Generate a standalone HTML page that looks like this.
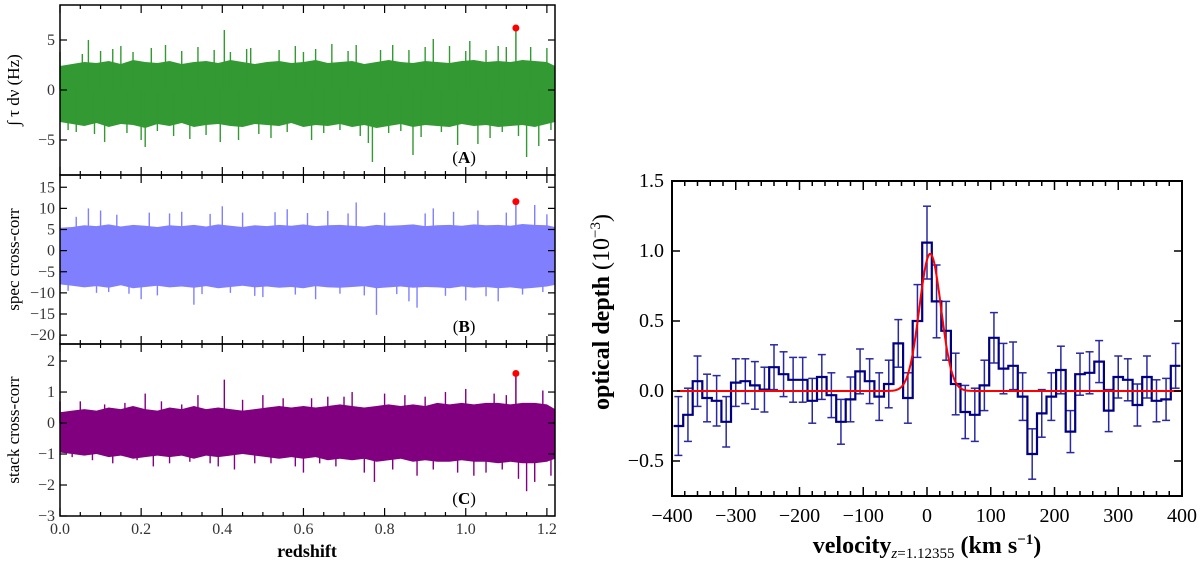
<!DOCTYPE html>
<html><head><meta charset="utf-8"><style>
html,body{margin:0;padding:0;background:#fff;}
svg{display:block;font-family:"Liberation Serif",serif;}
</style></head><body>
<svg id="fig" width="1200" height="563" viewBox="0 0 1200 563" xmlns="http://www.w3.org/2000/svg">
<g id="left"></g>
<g id="right"></g>
</svg>
<script>
// ---------- Left panels data ----------
const zTicks = [0.0, 0.2, 0.4, 0.6, 0.8, 1.0, 1.2];
const zTickLabels = ["0.0","0.2","0.4","0.6","0.8","1.0","1.2"];
const envZ = [0,0.03,0.06,0.09,0.12,0.15,0.18,0.21,0.24,0.27,0.3,0.33,0.36,0.39,0.42,0.45,0.48,0.51,0.54,0.57,0.6,0.63,0.66,0.69,0.72,0.75,0.78,0.81,0.84,0.87,0.9,0.93,0.96,0.99,1.02,1.05,1.08,1.11,1.14,1.17,1.2,1.22];
// panel A
const aUpper = [2.4,2.6,2.8,2.7,2.9,2.6,3.0,2.8,2.7,2.9,2.6,2.8,2.9,2.7,3.0,2.8,2.6,2.8,2.9,2.7,2.8,3.0,2.7,2.8,2.9,2.6,2.8,3.0,2.8,2.7,2.9,2.8,2.7,2.9,3.0,2.8,2.9,2.8,3.0,2.9,2.8,2.4];
const aLower = [-3.2,-3.4,-3.6,-3.3,-3.7,-3.4,-3.5,-3.8,-3.4,-3.6,-3.3,-3.7,-3.5,-3.4,-3.6,-3.7,-3.4,-3.5,-3.6,-3.3,-3.7,-3.5,-3.6,-3.4,-3.7,-3.5,-3.8,-3.6,-3.4,-3.7,-3.5,-3.6,-3.7,-3.4,-3.6,-3.5,-3.7,-3.6,-3.5,-3.7,-3.4,-3.2];
const aSpikeZ = [0.0,0.02,0.04,0.055,0.07,0.085,0.1,0.11,0.13,0.15,0.165,0.18,0.2,0.21,0.225,0.24,0.26,0.28,0.3,0.32,0.34,0.36,0.38,0.395,0.405,0.42,0.44,0.46,0.47,0.49,0.52,0.54,0.56,0.58,0.6,0.62,0.63,0.65,0.67,0.69,0.71,0.73,0.74,0.76,0.77,0.79,0.81,0.82,0.84,0.86,0.87,0.89,0.9,0.92,0.94,0.96,0.98,1.0,1.01,1.03,1.05,1.06,1.08,1.09,1.1,1.13,1.15,1.16,1.18,1.2,1.21];
const aSpikeV = [3.8,-4.0,-4.2,3.6,5.0,-4.4,3.9,-5.2,4.1,4.4,-4.3,3.8,-5.0,-5.7,4.2,-4.1,4.5,-4.6,3.9,-4.9,4.3,-4.5,4.0,-5.2,6.0,3.8,-5.0,4.1,4.2,-4.4,-4.8,4.0,-4.2,4.4,3.8,-5.0,4.1,-4.3,4.6,-4.0,3.9,4.5,-4.6,-5.3,-7.2,4.0,-4.3,4.5,-4.1,4.0,-6.5,-4.7,4.3,5.1,-4.2,4.4,-5.5,3.9,4.9,-5.4,4.0,-4.8,4.4,-4.2,4.3,-4.6,-6.7,4.3,-5.6,4.2,-4.0];
// panel B
const bUpper = [5.4,5.6,6.0,5.8,6.2,5.7,6.1,5.9,5.6,6.0,5.8,6.1,5.7,6.2,5.9,5.6,6.0,5.8,6.1,5.9,6.2,5.8,6.0,6.1,5.9,5.7,6.1,5.9,6.0,6.2,5.8,6.0,6.1,5.9,6.2,6.0,6.1,5.9,6.3,6.1,6.0,5.6];
const bLower = [-8.0,-8.3,-8.7,-8.4,-8.8,-8.2,-8.9,-8.6,-8.3,-8.7,-8.5,-8.8,-8.4,-8.9,-8.6,-8.3,-8.7,-8.5,-8.8,-8.6,-8.9,-8.4,-8.7,-8.8,-8.6,-8.4,-8.9,-8.7,-8.5,-8.8,-8.6,-8.7,-8.9,-8.5,-8.8,-8.6,-8.9,-8.7,-9.0,-8.8,-8.5,-8.1];
const bSpikeZ = [0.02,0.04,0.07,0.09,0.1,0.12,0.14,0.17,0.2,0.22,0.24,0.27,0.3,0.33,0.35,0.37,0.4,0.42,0.45,0.48,0.5,0.53,0.56,0.58,0.61,0.63,0.66,0.69,0.71,0.73,0.75,0.78,0.8,0.83,0.86,0.88,0.9,0.92,0.95,0.97,1.0,1.03,1.05,1.08,1.1,1.14,1.17,1.19,1.2];
const bSpikeV = [-9.5,8.0,10.0,-10.0,9.5,-9.8,8.5,-10.2,-11.5,9.0,-10.6,8.8,9.2,-12.8,-10.3,8.7,10.5,-10.0,9.0,-10.7,-11.0,9.1,9.8,-10.4,8.9,-11.5,9.4,-10.2,8.8,11.4,-10.6,-15.2,9.0,-10.3,-12.0,-13.5,8.8,10.0,-10.7,9.2,-11.8,9.5,-10.8,-12.0,9.0,-10.4,10.8,-9.8,8.6];
// panel C
const cUpper = [0.35,0.4,0.45,0.4,0.5,0.45,0.55,0.45,0.4,0.5,0.45,0.55,0.45,0.5,0.45,0.4,0.45,0.5,0.55,0.5,0.55,0.5,0.55,0.6,0.55,0.5,0.55,0.6,0.55,0.6,0.55,0.65,0.6,0.65,0.6,0.65,0.65,0.6,0.65,0.65,0.6,0.45];
const cLower = [-0.95,-1.0,-1.05,-1.0,-1.1,-1.05,-1.15,-1.1,-1.05,-1.1,-1.05,-1.15,-1.05,-1.1,-1.05,-1.0,-1.05,-1.1,-1.15,-1.1,-1.15,-1.1,-1.2,-1.15,-1.2,-1.15,-1.25,-1.2,-1.15,-1.25,-1.2,-1.25,-1.25,-1.2,-1.25,-1.25,-1.3,-1.25,-1.3,-1.3,-1.25,-1.15];
const cSpikeZ = [0.0,0.03,0.05,0.08,0.11,0.13,0.16,0.19,0.21,0.23,0.25,0.27,0.3,0.32,0.34,0.37,0.39,0.405,0.43,0.45,0.48,0.5,0.52,0.55,0.58,0.6,0.62,0.64,0.66,0.68,0.7,0.72,0.75,0.775,0.8,0.82,0.85,0.88,0.9,0.92,0.95,0.98,1.0,1.02,1.05,1.07,1.09,1.1,1.13,1.15,1.17,1.19,1.21];
const cSpikeV = [0.7,-1.1,0.7,-1.2,0.6,-1.3,0.65,-1.2,0.95,-1.4,0.7,-1.3,0.6,-1.25,0.9,-1.3,-1.4,1.4,-1.5,0.75,-1.3,0.9,-1.3,0.8,-1.4,-1.6,0.8,-1.3,0.85,-1.4,0.85,1.0,-1.6,-1.9,0.95,-1.5,0.9,-1.7,0.85,-1.5,1.0,-1.6,1.1,-1.7,-1.6,0.95,-1.5,0.9,-1.8,-2.2,-1.9,1.05,-1.7];
const peakZ = 1.1236;
const peakVals = [6.2, 11.6, 1.6];

// ---------- Right panel data ----------
const velCenters = [];
for (let k = 0; k < 53; k++) velCenters.push(-390 + 15 * k);
const tauVals = [-0.25,-0.17,0.07,-0.05,-0.07,-0.22,0.06,0.07,0.04,0.01,0.17,0.12,0.08,0.08,-0.07,0.10,-0.03,-0.22,-0.06,0.14,0.07,-0.04,0.05,0.34,-0.05,0.50,1.06,0.64,0.43,0.05,-0.15,-0.17,0.04,0.38,0.16,0.18,-0.04,-0.45,-0.16,-0.04,0.15,-0.29,0.12,0.13,0.21,-0.14,0.10,0.08,-0.10,0.10,-0.07,-0.06,0.18];
const tauErr = [0.21,0.19,0.18,0.17,0.18,0.18,0.17,0.16,0.17,0.16,0.16,0.16,0.16,0.16,0.16,0.16,0.16,0.16,0.16,0.16,0.16,0.17,0.17,0.17,0.18,0.26,0.26,0.26,0.21,0.22,0.19,0.19,0.18,0.18,0.18,0.17,0.17,0.18,0.17,0.17,0.17,0.15,0.15,0.15,0.15,0.15,0.15,0.15,0.15,0.15,0.15,0.15,0.16];
const gaussAmp = 0.98, gaussMu = 5, gaussSigma = 17;
const vTicks = [-400,-300,-200,-100,0,100,200,300,400];
const tTicks = [-0.5,0.0,0.5,1.0,1.5];
const tTickLabels = ["\u22120.5","0.0","0.5","1.0","1.5"];

const NS = "http://www.w3.org/2000/svg";
function mk(tag, attrs, parent) {
  const e = document.createElementNS(NS, tag);
  for (const k in attrs) e.setAttribute(k, attrs[k]);
  parent.appendChild(e);
  return e;
}
function fmt(v){ return (v<0?"\u2212":"")+Math.abs(v); }

const L = document.getElementById('left');
const X0 = 60, X1 = 555, ZMAX = 1.22;
const zx = z => X0 + (z / ZMAX) * (X1 - X0);
const panels = [
  {top:5, bot:175, ymin:-8.5, ymax:8.5, ticks:[-5,0,5], up:aUpper, lo:aLower, sz:aSpikeZ, sv:aSpikeV, color:"#339933", label:"\u222B \u03C4 d\u03BD (Hz)", tag:"A", name:"panel-a"},
  {top:175, bot:344, ymin:-22.1, ymax:17.9, ticks:[-20,-15,-10,-5,0,5,10,15], up:bUpper, lo:bLower, sz:bSpikeZ, sv:bSpikeV, color:"#8080ff", label:"spec cross-corr", tag:"B", name:"panel-b"},
  {top:344, bot:516, ymin:-3, ymax:2.55, ticks:[-3,-2,-1,0,1,2], up:cUpper, lo:cLower, sz:cSpikeZ, sv:cSpikeV, color:"#800080", label:"stack cross-corr", tag:"C", name:"panel-c"}
];
panels.forEach((p, i) => {
  const g = mk('g', {}, L);
  
  
  const yy = v => p.bot - (v - p.ymin) / (p.ymax - p.ymin) * (p.bot - p.top);
  let d = "";
  envZ.forEach((z, k) => { d += (k ? "L" : "M") + zx(z).toFixed(1) + "," + yy(p.up[k]).toFixed(1); });
  for (let k = envZ.length - 1; k >= 0; k--) d += "L" + zx(envZ[k]).toFixed(1) + "," + yy(p.lo[k]).toFixed(1);
  const band = mk('path', {d: d + "Z", fill: p.color}, g);
  
  
  p.sz.forEach((z, k) => {
    const s = mk('line', {x1: zx(z), x2: zx(z), y1: yy(0), y2: yy(p.sv[k]), stroke: p.color, 'stroke-width': 1.4}, g);
    
    
  });
  mk('line', {x1: zx(peakZ), x2: zx(peakZ), y1: yy(0), y2: yy(peakVals[i]), stroke: p.color, 'stroke-width': 1.5}, g);
  const dot = mk('circle', {cx: zx(peakZ), cy: yy(peakVals[i]), r: 3.5, fill: "#ff0000"}, g);
  
  
  const fr = mk('rect', {x: X0, y: p.top, width: X1 - X0, height: p.bot - p.top, fill: "none", stroke: "#000", 'stroke-width': 1.5}, g);
  
  
  for (let z = 0; z <= 1.2001; z += 0.05) {
    const major = Math.abs(z / 0.2 - Math.round(z / 0.2)) < 1e-6;
    const len = major ? 8 : 4;
    mk('line', {x1: zx(z), x2: zx(z), y1: p.bot, y2: p.bot - len, stroke: "#000", 'stroke-width': 1.2}, g);
    mk('line', {x1: zx(z), x2: zx(z), y1: p.top, y2: p.top + len, stroke: "#000", 'stroke-width': 1.2}, g);
  }
  p.ticks.forEach(v => {
    mk('line', {x1: X0, x2: X0 + 7, y1: yy(v), y2: yy(v), stroke: "#000", 'stroke-width': 1.2}, g);
    mk('line', {x1: X1, x2: X1 - 7, y1: yy(v), y2: yy(v), stroke: "#000", 'stroke-width': 1.2}, g);
    const t = mk('text', {x: X0 - 5, y: yy(v) + 5, 'text-anchor': 'end', 'font-size': 16, fill: "#333"}, g);
    t.textContent = fmt(v);
    
    
  });
  const cy = (p.top + p.bot) / 2;
  const yl = mk('text', {x: 19, y: cy, 'text-anchor': 'middle', 'font-size': 17, transform: `rotate(-90 19 ${cy})`}, g);
  yl.textContent = p.label;
  
  
  const tg = mk('text', {x: zx(0.996), y: p.bot - 12, 'text-anchor': 'middle', 'font-size': 17}, g);
  tg.innerHTML = `(<tspan font-weight="bold">${p.tag}</tspan>)`;
  
  
});
zTicks.forEach((z, k) => {
  const t = mk('text', {x: zx(z), y: 534, 'text-anchor': 'middle', 'font-size': 16, fill: "#333"}, L);
  t.textContent = zTickLabels[k];
  
  
});
const xl = mk('text', {x: 307, y: 557, 'text-anchor': 'middle', 'font-size': 18, 'font-weight': 'bold'}, L);
xl.textContent = "redshift";



// ---------- Right panel ----------
const R = document.getElementById('right');
const RX0 = 672, RX1 = 1182, RY0 = 181, RY1 = 496, TMIN = -0.75, TMAX = 1.5;
const vx = v => RX0 + (v + 400) / 800 * (RX1 - RX0);
const ty = t => RY1 - (t - TMIN) / (TMAX - TMIN) * (RY1 - RY0);
const clip = mk('clipPath', {id: 'rclip'}, R);
mk('rect', {x: RX0, y: RY0, width: RX1 - RX0, height: RY1 - RY0}, clip);
const data = mk('g', {'clip-path': 'url(#rclip)'}, R);
velCenters.forEach((v, k) => {
  const e = mk('g', {stroke: "#2a2aa0", 'stroke-width': 1.5}, data);
  
  
  const x = vx(v), a = ty(tauVals[k] + tauErr[k]), b = ty(tauVals[k] - tauErr[k]);
  mk('line', {x1: x, x2: x, y1: a, y2: b}, e);
  mk('line', {x1: x - 4, x2: x + 4, y1: a, y2: a}, e);
  mk('line', {x1: x - 4, x2: x + 4, y1: b, y2: b}, e);
});
let sd = "";
velCenters.forEach((v, k) => {
  const xa = vx(v - 7.5), xb = vx(v + 7.5), y = ty(tauVals[k]);
  sd += (k ? "L" : "M") + xa.toFixed(1) + "," + y.toFixed(1) + "L" + xb.toFixed(1) + "," + y.toFixed(1);
});
const step = mk('path', {d: sd, fill: "none", stroke: "#000080", 'stroke-width': 2.2}, data);


let gd = "";
for (let v = -392; v <= 400; v += 2) {
  const g = gaussAmp * Math.exp(-0.5 * Math.pow((v - gaussMu) / gaussSigma, 2));
  gd += (v === -392 ? "M" : "L") + vx(v).toFixed(1) + "," + ty(g).toFixed(1);
}
const gp = mk('path', {d: gd, fill: "none", stroke: "#ff0000", 'stroke-width': 2}, data);


const rf = mk('rect', {x: RX0, y: RY0, width: RX1 - RX0, height: RY1 - RY0, fill: "none", stroke: "#000", 'stroke-width': 2}, R);


for (let v = -400; v <= 400; v += 20) {
  const major = v % 100 === 0, len = major ? 9 : 5;
  mk('line', {x1: vx(v), x2: vx(v), y1: RY1, y2: RY1 - len, stroke: "#000", 'stroke-width': 1.5}, R);
  mk('line', {x1: vx(v), x2: vx(v), y1: RY0, y2: RY0 + len, stroke: "#000", 'stroke-width': 1.5}, R);
}
vTicks.forEach(v => {
  const t = mk('text', {x: vx(v), y: 522, 'text-anchor': 'middle', 'font-size': 20}, R);
  t.textContent = fmt(v);
  
  
});
tTicks.forEach((v, k) => {
  mk('line', {x1: RX0, x2: RX0 + 8, y1: ty(v), y2: ty(v), stroke: "#000", 'stroke-width': 1.5}, R);
  mk('line', {x1: RX1, x2: RX1 - 8, y1: ty(v), y2: ty(v), stroke: "#000", 'stroke-width': 1.5}, R);
  const t = mk('text', {x: 664, y: ty(v) + 6, 'text-anchor': 'end', 'font-size': 20}, R);
  t.textContent = tTickLabels[k];
  
  
});
const ryl = mk('text', {x: 609, y: 312, 'text-anchor': 'middle', 'font-size': 24, 'font-weight': 'bold', transform: 'rotate(-90 609 312)'}, R);
ryl.innerHTML = 'optical depth <tspan font-weight="normal">(10</tspan><tspan font-weight="normal" font-size="15" dy="-9">\u22123</tspan><tspan font-weight="normal" dy="9">)</tspan>';


const rxl = mk('text', {x: 927, y: 553, 'text-anchor': 'middle', 'font-size': 24, 'font-weight': 'bold'}, R);
rxl.innerHTML = 'velocity<tspan font-weight="normal" font-size="15" font-style="italic" dy="5">z</tspan><tspan font-weight="normal" font-size="15">=1.12355</tspan><tspan dy="-5"> (km s</tspan><tspan font-size="15" dy="-9">\u22121</tspan><tspan dy="9">)</tspan>';


</script>
</body></html>
